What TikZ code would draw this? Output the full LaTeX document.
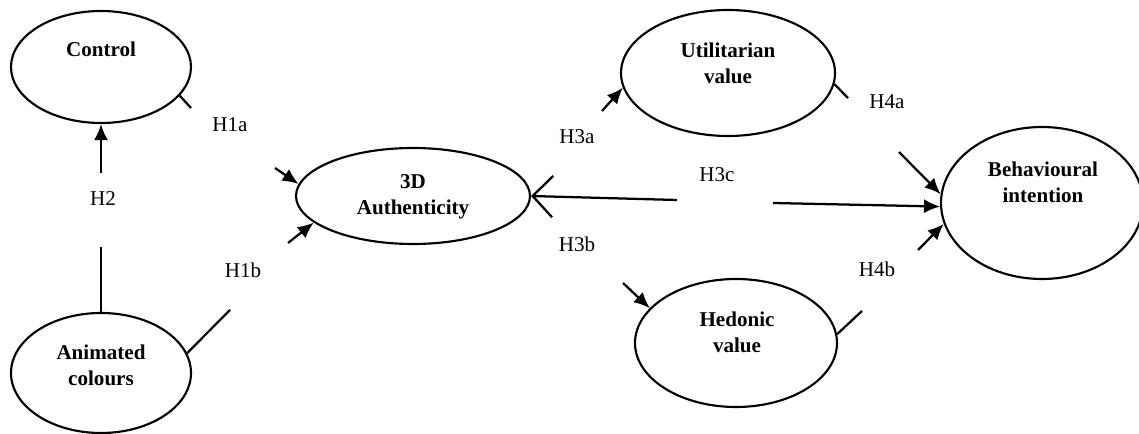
\documentclass[tikz,border=0pt]{standalone}
\usepackage{fontspec}
\setmainfont{Liberation Serif}
\usetikzlibrary{shapes.geometric,arrows.meta}
\tikzset{every picture/.style={line width=0.75pt}}

\begin{document}
\begin{tikzpicture}[x=0.75pt,y=0.75pt,yscale=-1,xscale=1,
	construct/.style={draw,ellipse,line width=1.6pt,inner sep=0pt},
	cname/.style={font=\fontsize{15.8}{19.5}\selectfont\bfseries,align=center},
	hyp/.style={font=\fontsize{15.8}{19}\selectfont},
	link/.style={line width=1.7pt},
	arr/.style={link,-{Latex[length=12pt,width=10.5pt]}}]
	\useasboundingbox (0,0) rectangle (1139,434);

	%Shape: Ellipse [id:control]
	\node [construct,minimum width=135pt,minimum height=84pt] (control) at (101,67) {};
	%Shape: Ellipse [id:anim]
	\node [construct,minimum width=135pt,minimum height=90pt] (anim) at (101,373) {};
	%Shape: Ellipse [id:auth]
	\node [construct,minimum width=175.5pt,minimum height=72pt] (auth) at (413,196) {};
	%Shape: Ellipse [id:util]
	\node [construct,minimum width=160.5pt,minimum height=94.5pt] (util) at (728,73) {};
	%Shape: Ellipse [id:hedo]
	\node [construct,minimum width=151.5pt,minimum height=96pt] (hedo) at (736,343) {};
	%Shape: Ellipse [id:bi]
	\node [construct,minimum width=151.5pt,minimum height=114pt] (bi) at (1042,203) {};

	% Text Node
	\node [cname] (control-txt) at (101,49) {Control};
	\node [cname] (anim-txt) at (101,365) {Animated\\colours};
	\node [cname] (auth-txt) at (413,197) {3D\\Authenticity};
	\node [cname] (util-txt) at (728,63) {Utilitarian\\value};
	\node [cname] (hedo-txt) at (737,332) {Hedonic\\value};
	\node [cname] (bi-txt) at (1043,182) {Behavioural\\intention};

	% Text Node
	\node [hyp] (h1a) at (230,125) {H1a};
	\node [hyp] (h1b) at (243,270) {H1b};
	\node [hyp] (h2) at (103,199) {H2};
	\node [hyp] (h3a) at (577,137) {H3a};
	\node [hyp] (h3b) at (577,244) {H3b};
	\node [hyp] (h3c) at (717,175) {H3c};
	\node [hyp] (h4a) at (887,102) {H4a};
	\node [hyp] (h4b) at (877,269) {H4b};

	%free ends of the broken lines
	\coordinate (h2-top) at (101,173);
	\coordinate (h2-bot) at (101,247);
	\coordinate (h1a-in) at (191,108);
	\coordinate (h1a-out) at (275,168);
	\coordinate (h1b-in) at (230,310);
	\coordinate (h1b-out) at (288,243);
	\coordinate (h3a-out) at (602,111);
	\coordinate (h3b-out) at (623,283);
	\coordinate (h3c-in) at (677,200);
	\coordinate (h3c-out) at (773,203);
	\coordinate (h4a-in) at (848,98);
	\coordinate (h4a-out) at (899,152);
	\coordinate (h4b-in) at (862,311);
	\coordinate (h4b-out) at (918,250);

	%Straight Lines
	\draw [arr] (h2-top) -- (control.south);
	\draw [link] (h2-bot) -- (anim.north);
	\draw [link] (control.-20) -- (h1a-in);
	\draw [arr] (h1a-out) -- (auth.174);
	\draw [link] (anim.13) -- (h1b-in);
	\draw [arr] (h1b-out) -- (auth.195);
	\draw [arr] (h3a-out) -- (util.188);
	\draw [arr] (h3b-out) -- (hedo.158);
	\draw [link,{Straight Barb[length=15pt,width=31pt]}-] (auth.east) -- (h3c-in);
	\draw [arr] (h3c-out) -- (bi.182);
	\draw [link] (util.-6) -- (h4a-in);
	\draw [arr] (h4a-out) -- (bi.175);
	\draw [link] (hedo.5) -- (h4b-in);
	\draw [arr] (h4b-out) -- (bi.192);

\end{tikzpicture}
\end{document}
